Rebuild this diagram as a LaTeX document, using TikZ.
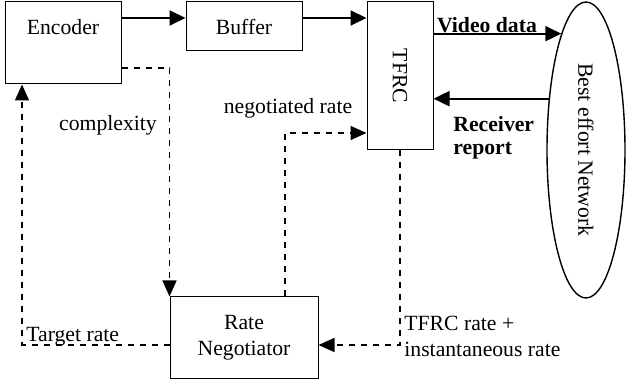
\documentclass[tikz,border=0pt]{standalone}
\usepackage{fontspec}
\setmainfont{Liberation Serif}
\usetikzlibrary{arrows.meta,shapes.geometric}
\begin{document}
\begin{tikzpicture}[x=0.5pt,y=-0.5pt,
  font=\fontsize{10.85}{13}\selectfont,
  box/.style={draw,line width=0.5pt,inner sep=0pt,align=center},
  solidarrow/.style={line width=1pt,-{Triangle[length=8pt,width=7.5pt]}},
  dasharrow/.style={line width=0.7pt,dash pattern=on 3pt off 3pt,-{Triangle[length=8pt,width=7pt]}},
  lbl/.style={inner sep=0pt,align=left}]
\useasboundingbox (0,0) rectangle (627,383);
\node[box,minimum width=58pt,minimum height=41pt,label={[yshift=8pt]center:Encoder}] (enc) at (63,43) {};
\node[box,minimum width=58pt,minimum height=24.5pt] (buf) at (244,26.5) {Buffer};
\node[box,minimum width=33pt,minimum height=74pt] (tfrc) at (400,76) {\rotatebox{-90}{TFRC}};
\node[box,minimum width=74pt,minimum height=41pt] (rn) at (244,338) {Rate\\Negotiator};
\node[draw,ellipse,line width=0.7pt,inner sep=0pt,minimum width=39pt,minimum height=148pt] (net) at (586,150) {\rotatebox{-90}{Best effort Network}};
% solid arrows
\draw[solidarrow] (enc.east |- 0,18) -- (buf.west |- 0,18);
\draw[solidarrow] (buf.east |- 0,18) -- (tfrc.west |- 0,18);
\draw[solidarrow] (tfrc.east |- net.102) -- (net.102);
\draw[solidarrow] (net.126.3) -- (tfrc.east |- net.126.3);
% dashed connectors
\draw[dasharrow] (enc.east |- 0,68) -| (rn.north west);
\coordinate (tr) at (22,345);
\draw[dasharrow] (rn.west |- tr) -- (tr) -- (tr |- enc.south);
\coordinate (nr) at (285,133);
\draw[dasharrow] (nr |- rn.north) -- (nr) -- (nr -| tfrc.west);
\coordinate (tr2) at (400,345);
\draw[dasharrow] (tr2 |- tfrc.south) -- (tr2) -- (tr2 -| rn.east);
% labels
\node[lbl,font=\fontsize{10.85}{13}\selectfont\bfseries,anchor=base] (vd) at (487,33) {Video data};
\node[lbl,font=\fontsize{10.85}{11.5}\selectfont\bfseries,anchor=west] (rr) at (453,138) {Receiver\\report};
\node[lbl] (cx) at (108,125) {complexity};
\node[lbl] (ng) at (288,108) {negotiated rate};
\node[lbl,anchor=west] (tg) at (26,337) {Target rate};
\node[lbl,anchor=west] (ti) at (404,336) {TFRC rate +\\instantaneous rate};
\end{tikzpicture}
\end{document}
